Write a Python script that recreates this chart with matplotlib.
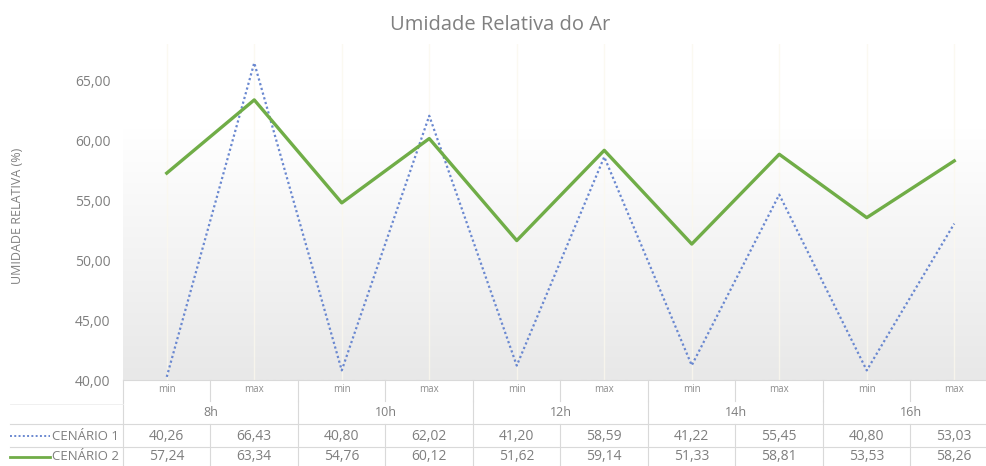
import numpy as np
import matplotlib
matplotlib.use("Agg")
import matplotlib.pyplot as plt
from matplotlib.lines import Line2D
from matplotlib.transforms import blended_transform_factory

horarios = ['8h', '10h', '12h', '14h', '16h']
extremos = ['min', 'max']
cenario_1 = [40.26, 66.43, 40.80, 62.02, 41.20, 58.59, 41.22, 55.45, 40.80, 53.03]
cenario_2 = [57.24, 63.34, 54.76, 60.12, 51.62, 59.14, 51.33, 58.81, 53.53, 58.26]
y_ticks = [40, 45, 50, 55, 60, 65]

W, H = 987, 466
AX_L, AX_R, AX_T, AX_B = 123, 998, 44, 380

plt.rcParams['font.family'] = ['Open Sans', 'DejaVu Sans']

fig = plt.figure(figsize=(W / 100, H / 100), dpi=100)
ax = fig.add_axes([AX_L / W, 1 - AX_B / H, (AX_R - AX_L) / W, (AX_B - AX_T) / H])

n = len(cenario_1)
x = np.arange(n)
ax.set_xlim(-0.5, n - 0.5)
ax.set_ylim(40, 68)

# fundo em degradê (branco em cima, cinza embaixo)
t = np.linspace(0, 1, 256).reshape(-1, 1)
grad = np.clip((0.75 - t) / 0.75, 0, 1)
cmap = matplotlib.colors.LinearSegmentedColormap.from_list('g', ['#ffffff', '#e8e8e8'])
ax.imshow(grad, aspect='auto', cmap=cmap, extent=(-0.5, n - 0.5, 40, 68),
          origin='lower', zorder=0)
for xi in x:
    ax.axvline(xi, color='#fbf8ee', lw=1.0, alpha=0.8, zorder=1)

ax.plot(x, cenario_1, color='#6a88d0', lw=1.6, ls=(0, (1, 1.2)), zorder=3)
ax.plot(x, cenario_2, color='#70ad47', lw=2.4, zorder=4)

for s in ax.spines.values():
    s.set_visible(False)
ax.set_xticks([])
ax.set_yticks(y_ticks)
ax.set_yticklabels([f'{v:.2f}'.replace('.', ',') for v in y_ticks])
ax.tick_params(axis='y', length=0, pad=9, labelsize=10, labelcolor='#7f7f7f')

fig.text(500 / W, 1 - 25 / H, 'Umidade Relativa do Ar', ha='center', va='center',
         fontsize=14.5, color='#808080')
fig.text(18 / W, 1 - 216 / H, 'UMIDADE RELATIVA (%)', rotation=90, ha='center',
         va='center', fontsize=9, color='#808080')

# tabela de dados embaixo do gráfico
def ay(ypix):
    return (AX_B - ypix) / (AX_B - AX_T)

def fy(ypix):
    return 1 - ypix / H

tr = blended_transform_factory(ax.transData, ax.transAxes)
line_c = '#d9d9d9'
txt_c = '#7f7f7f'

ax.plot([-0.5, n - 0.5], [0, 0], transform=tr, color=line_c, lw=0.8, clip_on=False)
for yp in [424, 447]:
    fig.add_artist(Line2D([10 / W, 1], [fy(yp)] * 2, color=line_c, lw=0.8))
fig.add_artist(Line2D([10 / W, AX_L / W], [fy(404)] * 2, color='#eeeeee', lw=0.6))

for k in range(n + 1):
    xb = k - 0.5
    ax.plot([xb, xb], [ay(380), ay(401)], transform=tr, color=line_c, lw=0.8, clip_on=False)
    ax.plot([xb, xb], [ay(424), ay(466)], transform=tr, color=line_c, lw=0.8, clip_on=False)
    if k % 2 == 0:
        ax.plot([xb, xb], [ay(401), ay(424)], transform=tr, color=line_c, lw=0.8, clip_on=False)

for i in range(n):
    ax.text(i, ay(390), extremos[i % 2], transform=tr, ha='center', va='center',
            fontsize=7, color='#8c8c8c', clip_on=False)
    ax.text(i, ay(436), f'{cenario_1[i]:.2f}'.replace('.', ','), transform=tr,
            ha='center', va='center', fontsize=10, color=txt_c)
    ax.text(i, ay(457), f'{cenario_2[i]:.2f}'.replace('.', ','), transform=tr,
            ha='center', va='center', fontsize=10, color=txt_c)
for j, h in enumerate(horarios):
    ax.text(2 * j + 0.5, ay(412), h, transform=tr, ha='center', va='center',
            fontsize=9, color=txt_c)

# rótulos das séries com a chave da legenda
for yp, nome, cor, estilo, lw in [(436, 'CENÁRIO 1', '#6a88d0', (0, (1, 1.2)), 1.4),
                                   (457, 'CENÁRIO 2', '#70ad47', '-', 2.0)]:
    fig.text(119 / W, fy(yp), nome, ha='right', va='center', fontsize=9.5, color=txt_c)
    fig.add_artist(Line2D([10 / W, 50 / W], [fy(yp)] * 2, color=cor, ls=estilo, lw=lw))

fig.savefig('out.png', dpi=100)
